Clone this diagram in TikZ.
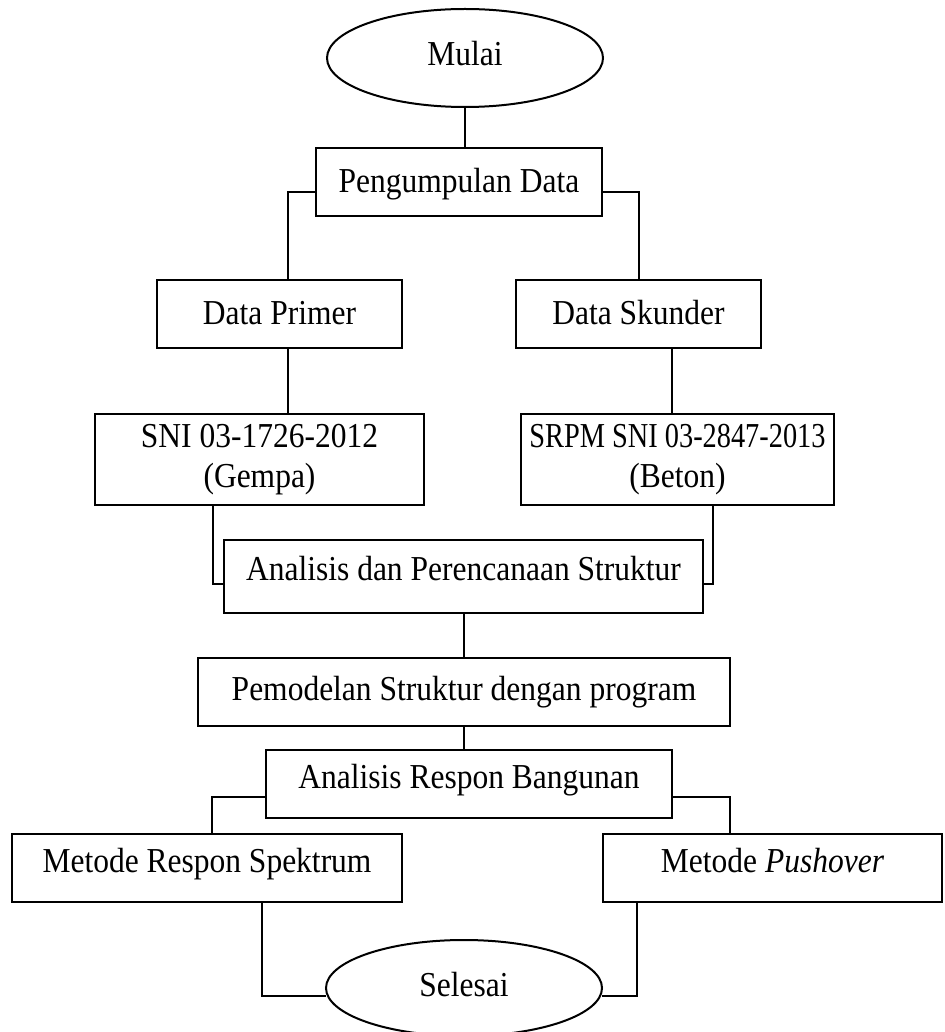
\documentclass[tikz,border=0pt]{standalone}
\usepackage{fontspec}
\setmainfont{Liberation Serif}[FakeStretch=0.9]
\usetikzlibrary{shapes.geometric}
\begin{document}
\begin{tikzpicture}[x=1pt,y=-1pt,
  every node/.style={font=\fontsize{35}{40}\selectfont, inner sep=0pt, outer sep=0pt},
  boxnode/.style={draw, line width=2pt, rectangle, text height=24pt, text depth=8pt},
  twoline/.style={draw, line width=2pt, rectangle, align=center},
  ovalnode/.style={draw, line width=2pt, ellipse, text height=24pt, text depth=8pt},
  conn/.style={draw, line width=2pt}]
\useasboundingbox (0,0) rectangle (944,1032);

\node[ovalnode, minimum width=276pt, minimum height=98pt] (mulai) at (465,58) {Mulai};
\node[boxnode, minimum width=286pt, minimum height=68pt] (peng) at (459,182) {\raisebox{-2pt}[\height][\depth]{Pengumpulan Data}};
\node[boxnode, minimum width=245pt, minimum height=68pt] (prim) at (279.5,314) {\raisebox{-2pt}[\height][\depth]{Data Primer}};
\node[boxnode, minimum width=245pt, minimum height=68pt] (skun) at (638.5,314) {\raisebox{-2pt}[\height][\depth]{Data Skunder}};
\node[twoline, minimum width=329pt, minimum height=91pt] (sni) at (259.5,459.5) {SNI 03-1726-2012\\(Gempa)};
\node[twoline, minimum width=313pt, minimum height=91pt] (srpm) at (677.5,459.5) {\scalebox{0.9}[1]{SRPM SNI 03-2847-2013}\\(Beton)};
\node[boxnode, minimum width=479pt, minimum height=73pt] (ana) at (463.5,576.5) {\raisebox{4pt}[\height][\depth]{Analisis dan Perencanaan Struktur}};
\node[boxnode, minimum width=532pt, minimum height=68pt] (pem) at (464,692) {Pemodelan Struktur dengan program};
\node[boxnode, minimum width=406pt, minimum height=68pt] (resp) at (469,784) {\raisebox{4pt}[\height][\depth]{Analisis Respon Bangunan}};
\node[boxnode, minimum width=390pt, minimum height=68pt] (spek) at (207,868) {\raisebox{4pt}[\height][\depth]{Metode Respon Spektrum}};
\node[boxnode, minimum width=339pt, minimum height=68pt] (push) at (772.5,868) {\raisebox{4pt}[\height][\depth]{Metode \textit{Pushover}}};
\node[ovalnode, minimum width=276pt, minimum height=96pt] (selesai) at (464,988) {Selesai};

\draw[conn] (mulai.south) -- (mulai.south |- peng.north);
\draw[conn] ([yshift=-10pt]peng.west) -| ([xshift=8.5pt]prim.north);
\draw[conn] ([yshift=-10pt]peng.east) -| (skun.north);
\draw[conn] ([xshift=8.5pt]prim.south) -- ([xshift=8.5pt]prim.south |- sni.north);
\draw[conn] ([xshift=33.5pt]skun.south) -- ([xshift=33.5pt]skun.south |- srpm.north);
\draw[conn] ([xshift=-46.5pt]sni.south) |- ([yshift=-7.5pt]ana.west);
\draw[conn] ([xshift=35.5pt]srpm.south) |- ([yshift=-7.5pt]ana.east);
\draw[conn] (ana.south) -- (ana.south |- pem.north);
\draw[conn] (pem.south) -- (pem.south |- resp.north);
\draw[conn] ([yshift=-13pt]resp.west) -| ([xshift=5pt]spek.north);
\draw[conn] ([yshift=-13pt]resp.east) -| ([xshift=-42.5pt]push.north);
\draw[conn] ([xshift=55pt]spek.south) |- ([yshift=-8pt]selesai.west);
\draw[conn] ([xshift=-135.5pt]push.south) |- ([yshift=-8pt]selesai.east);
\end{tikzpicture}
\end{document}
